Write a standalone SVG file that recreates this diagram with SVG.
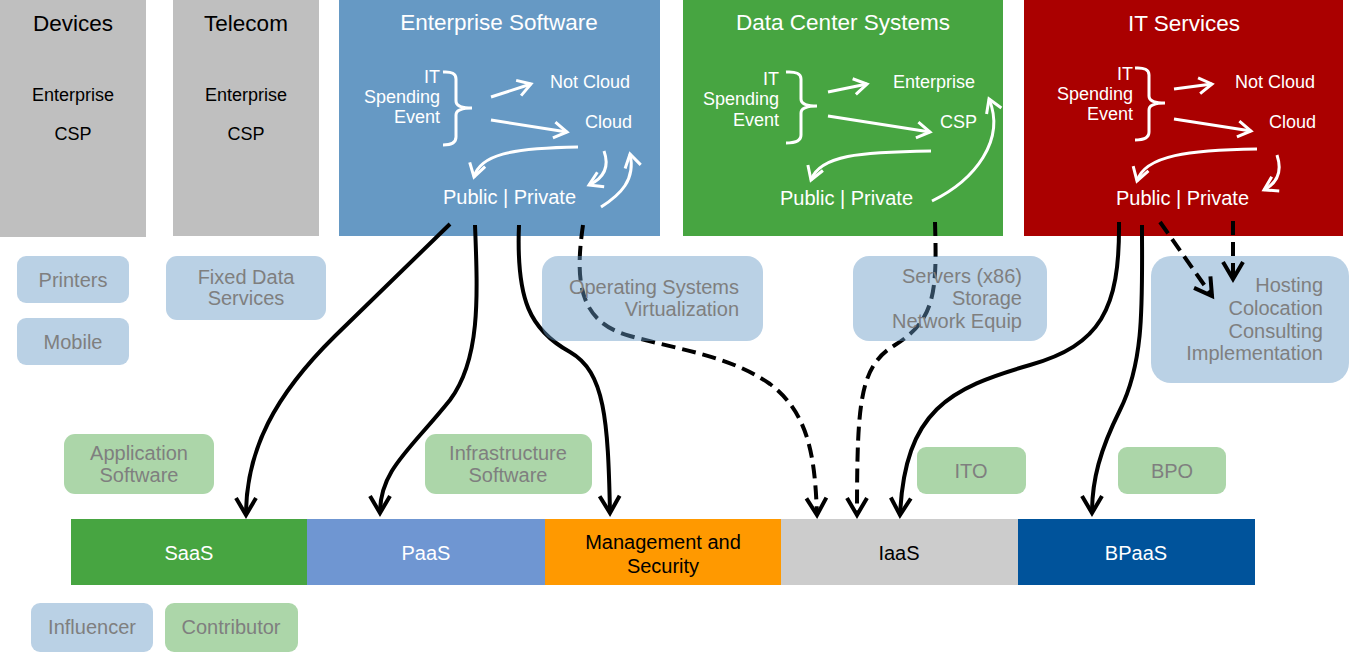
<svg xmlns="http://www.w3.org/2000/svg" width="1350" height="652" viewBox="0 0 1350 652">
<style>
text{font-family:"Liberation Sans",Arial,sans-serif}
.t{font-size:22.5px;text-anchor:middle}
.blk{fill:#000}
.wht{fill:#fff}
.s18{font-size:18px}
.s20{font-size:20px}
.mid{text-anchor:middle}
.end{text-anchor:end}
.gt{fill:#7f7f7f;font-size:20px}
.lb{fill:#6699c6;fill-opacity:0.45}
.lg{fill:#47a541;fill-opacity:0.45}
.wa{fill:none;stroke:#fff;stroke-width:3;marker-end:url(#wh)}
.br{fill:none;stroke:#fff;stroke-width:3}
.c{fill:none;stroke:#000;stroke-width:4;marker-end:url(#ah)}
.d{stroke-dasharray:14 7}
</style>
<defs>
<marker id="ah" viewBox="-22 -14 26 28" markerWidth="26" markerHeight="28" refX="0" refY="0" orient="auto" markerUnits="userSpaceOnUse" overflow="visible">
<path d="M-17,-10 L0,0 L-17,10" fill="none" stroke="#000" stroke-width="4"/>
</marker>
<marker id="wh" viewBox="-16 -10 20 20" markerWidth="20" markerHeight="20" refX="0" refY="0" orient="auto" markerUnits="userSpaceOnUse" overflow="visible">
<path d="M-13,-8 L0,0 L-13,8" fill="none" stroke="#fff" stroke-width="3"/>
</marker>
</defs>
<rect width="1350" height="652" fill="#fff"/>

<g id="devices">
<rect x="0" y="0" width="146" height="237" fill="#bfbfbf"/>
<text class="t blk" x="73" y="31">Devices</text>
<text class="s18 mid blk" x="73" y="101">Enterprise</text>
<text class="s18 mid blk" x="73" y="140">CSP</text>
</g>
<g id="telecom">
<rect x="173" y="0" width="146" height="236" fill="#bfbfbf"/>
<text class="t blk" x="246" y="31">Telecom</text>
<text class="s18 mid blk" x="246" y="101">Enterprise</text>
<text class="s18 mid blk" x="246" y="140">CSP</text>
</g>
<g id="enterprise-software">
<rect x="339" y="0" width="321" height="236" fill="#6699c4"/>
<text class="t wht" x="499" y="30">Enterprise Software</text>
<text class="s18 end wht" x="440" y="83">IT</text>
<text class="s18 end wht" x="440" y="103">Spending</text>
<text class="s18 end wht" x="440" y="123">Event</text>
<path class="br" d="M443,72 Q456,71 456,79 L456,101 Q456,108 472,108 Q456,108 456,115 L456,137 Q456,145 443,145"/>
<path class="wa" d="M491,97 L531,84"/>
<path class="wa" d="M491,120 L567,132"/>
<text class="s18 wht" x="550" y="88">Not Cloud</text>
<text class="s18 wht" x="585" y="128">Cloud</text>
<path class="wa" d="M578,147 C510,148 480,155 474,177"/>
<path class="wa" d="M604,151 C609,165 606,177 589,185"/>
<path class="wa" d="M601,207 C620,195 636,180 630,154"/>
<text class="s20 wht" x="443" y="204">Public | Private</text>
</g>
<g id="data-center-systems">
<rect x="683" y="0" width="320" height="236" fill="#47a541"/>
<text class="t wht" x="843" y="30">Data Center Systems</text>
<text class="s18 end wht" x="779" y="85">IT</text>
<text class="s18 end wht" x="779" y="105">Spending</text>
<text class="s18 end wht" x="779" y="126">Event</text>
<path class="br" d="M786,72 Q801,71 801,79 L801,99 Q801,106 817,106 Q801,106 801,113 L801,135 Q801,143 786,143"/>
<path class="wa" d="M828,92 L867,84"/>
<path class="wa" d="M828,116 L930,132"/>
<text class="s18 wht" x="893" y="88">Enterprise</text>
<text class="s18 wht" x="940" y="128">CSP</text>
<path class="wa" d="M931,151 C860,152 820,155 811,180"/>
<path class="wa" d="M932,201 C975,180 1006,140 989,99"/>
<text class="s20 wht" x="780" y="205">Public | Private</text>
</g>
<g id="it-services">
<rect x="1024" y="0" width="319" height="236" fill="#aa0000"/>
<text class="t wht" x="1184" y="31">IT Services</text>
<text class="s18 end wht" x="1133" y="80">IT</text>
<text class="s18 end wht" x="1133" y="100">Spending</text>
<text class="s18 end wht" x="1133" y="120">Event</text>
<path class="br" d="M1135,68 Q1149,67 1149,75 L1149,96 Q1149,103 1165,103 Q1149,103 1149,110 L1149,132 Q1149,140 1135,140"/>
<path class="wa" d="M1174,89 L1212,84"/>
<path class="wa" d="M1174,119 L1251,131"/>
<text class="s18 wht" x="1235" y="88">Not Cloud</text>
<text class="s18 wht" x="1269" y="128">Cloud</text>
<path class="wa" d="M1257,149 C1190,150 1145,155 1137,181"/>
<path class="wa" d="M1277,155 C1282,170 1279,182 1264,190"/>
<text class="s20 wht" x="1116" y="205">Public | Private</text>
</g>

<g id="hosting">
<rect class="lb" x="1151" y="256" width="198" height="127" rx="20"/>
<text class="gt end" x="1323" y="292">Hosting</text>
<text class="gt end" x="1323" y="315">Colocation</text>
<text class="gt end" x="1323" y="338">Consulting</text>
<text class="gt end" x="1323" y="360">Implementation</text>
</g>

<g id="connectors">
<path class="c" d="M450,224 L335,336 C275,395 246,450 246,515"/>
<path class="c" d="M475,225 C478,300 480,360 450,400 C410,450 380,470 380,513"/>
<path class="c" d="M519,225 C516,300 530,330 570,352 C605,372 608,420 610,513"/>
<path class="c d" d="M583,225 C575,280 578,322 630,336 C680,350 730,356 770,384 C810,414 815,460 817,515"/>
<path class="c d" d="M935,222 C937,290 936,320 895,345 C860,366 857,400 857,515"/>
<path class="c" d="M1119,222 C1120,310 1100,345 1030,365 C950,388 905,410 900,515"/>
<path class="c" d="M1142,225 C1142,300 1145,360 1120,410 C1100,450 1092,480 1092,513"/>
<path class="c d" d="M1160,222 L1212,296"/>
<path class="c d" d="M1233,221 L1233,279"/>
</g>

<g id="printers">
<rect class="lb" x="17" y="256" width="112" height="47" rx="9"/>
<text class="gt mid" x="73" y="287">Printers</text>
</g>
<g id="mobile">
<rect class="lb" x="17" y="318" width="112" height="47" rx="9"/>
<text class="gt mid" x="73" y="349">Mobile</text>
</g>
<g id="fixed-data">
<rect class="lb" x="166" y="256" width="160" height="64" rx="11"/>
<text class="gt mid" x="246" y="284">Fixed Data</text>
<text class="gt mid" x="246" y="305">Services</text>
</g>
<g id="os-virtualization">
<rect class="lb" x="542" y="256" width="221" height="85" rx="16"/>
<text class="gt end" x="739" y="294">Operating Systems</text>
<text class="gt end" x="739" y="316">Virtualization</text>
</g>
<g id="servers">
<rect class="lb" x="853" y="256" width="194" height="85" rx="16"/>
<text class="gt end" x="1022" y="283">Servers (x86)</text>
<text class="gt end" x="1022" y="305">Storage</text>
<text class="gt end" x="1022" y="328">Network Equip</text>
</g>

<g id="application-software">
<rect class="lg" x="64" y="434" width="150" height="60" rx="11"/>
<text class="gt mid" x="139" y="460">Application</text>
<text class="gt mid" x="139" y="482">Software</text>
</g>
<g id="infrastructure-software">
<rect class="lg" x="425" y="434" width="167" height="60" rx="11"/>
<text class="gt mid" x="508" y="460">Infrastructure</text>
<text class="gt mid" x="508" y="482">Software</text>
</g>
<g id="ito">
<rect class="lg" x="917" y="447" width="109" height="47" rx="9"/>
<text class="gt mid" x="971" y="478">ITO</text>
</g>
<g id="bpo">
<rect class="lg" x="1118" y="447" width="108" height="47" rx="9"/>
<text class="gt mid" x="1172" y="478">BPO</text>
</g>

<g id="saas">
<rect x="71" y="519" width="236" height="66" fill="#47a541"/>
<text class="s20 mid wht" x="189" y="560">SaaS</text>
</g>
<g id="paas">
<rect x="307" y="519" width="238" height="66" fill="#6f96d2"/>
<text class="s20 mid wht" x="426" y="560">PaaS</text>
</g>
<g id="management-security">
<rect x="545" y="519" width="236" height="66" fill="#ff9900"/>
<text class="s20 mid blk" x="663" y="549">Management and</text>
<text class="s20 mid blk" x="663" y="573">Security</text>
</g>
<g id="iaas">
<rect x="781" y="519" width="237" height="66" fill="#cccccc"/>
<text class="s20 mid blk" x="899" y="560">IaaS</text>
</g>
<g id="bpaas">
<rect x="1018" y="519" width="237" height="66" fill="#00539b"/>
<text class="s20 mid wht" x="1136" y="560">BPaaS</text>
</g>

<g id="influencer">
<rect class="lb" x="31" y="603" width="122" height="49" rx="9"/>
<text class="gt mid" x="92" y="634">Influencer</text>
</g>
<g id="contributor">
<rect class="lg" x="165" y="603" width="133" height="49" rx="9"/>
<text class="gt mid" x="231" y="634">Contributor</text>
</g>
</svg>
